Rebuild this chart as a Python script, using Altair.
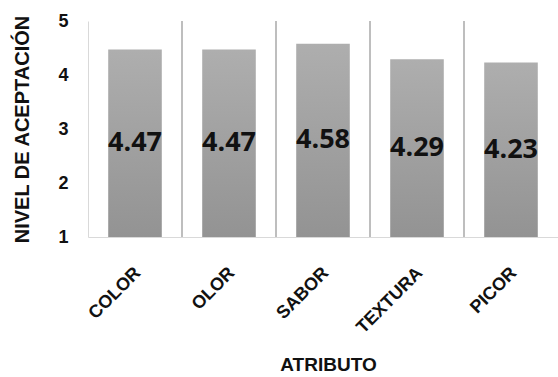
import altair as alt
import pandas as pd

CATS = ["COLOR", "OLOR", "SABOR", "TEXTURA", "PICOR"]
VALUES = [4.47, 4.47, 4.58, 4.29, 4.23]
LABELS = ["4.47", "4.47", "4.58", "4.29", "4.23"]
Y_TICKS = [1, 2, 3, 4, 5]
Y_MIN, Y_MAX = 1, 5

df = pd.DataFrame({"cat": CATS, "val": VALUES, "lab": LABELS})
sep = pd.DataFrame({"cat": CATS[1:]})

AX_FONT = "Liberation Sans"

x_axis = alt.Axis(
    title="ATRIBUTO",
    labelAngle=-45,
    labelAlign="right",
    labelBaseline="middle",
    labelFont=AX_FONT,
    labelFontSize=18,
    labelFontWeight="bold",
    labelColor="#111111",
    labelPadding=33,
    labelOffset=3,
    ticks=False,
    tickSize=0,
    grid=False,
    domainColor="#d9d9d9",
    domainWidth=1,
    titleFont=AX_FONT,
    titleFontSize=19,
    titleFontWeight="bold",
    titleColor="#111111",
    titleX=240,
    titleY=127,
    titleAlign="center",
    titleBaseline="middle",
    labelOverlap=False,
)

y_axis = alt.Axis(
    title="NIVEL DE ACEPTACIÓN",
    values=Y_TICKS,
    format="d",
    labelFont=AX_FONT,
    labelFontSize=18,
    labelFontWeight="bold",
    labelColor="#111111",
    labelPadding=20,
    ticks=False,
    tickSize=0,
    grid=False,
    domainColor="#d9d9d9",
    domainWidth=1,
    titleFont=AX_FONT,
    titleFontSize=20,
    titleFontWeight="bold",
    titleColor="#111111",
    titleX=-66,
    titleY=108,
    titleAngle=270,
    titleAlign="center",
    titleBaseline="middle",
)

x_enc = alt.X("cat:N", sort=CATS, scale=alt.Scale(paddingInner=0, paddingOuter=0), axis=x_axis)
y_scale = alt.Scale(domain=[Y_MIN, Y_MAX], nice=False, zero=False)

bars = alt.Chart(df).mark_bar(
    width=alt.RelativeBandSize(0.57),
    color=alt.Gradient(
        gradient="linear", x1=0, y1=0, x2=0, y2=1,
        stops=[alt.GradientStop(color="#aeaeae", offset=0),
               alt.GradientStop(color="#939393", offset=1)],
    ),
).encode(
    x=x_enc,
    y=alt.Y("val:Q", scale=y_scale, axis=y_axis),
    y2=alt.datum(Y_MIN),
)

labels = alt.Chart(df).transform_calculate(
    mid="(datum.val + %d) / 2" % Y_MIN
).mark_text(
    font="Open Sans", fontSize=27, fontWeight="bold", color="#111111",
    align="center", baseline="middle",
).encode(
    x=x_enc,
    y=alt.Y("mid:Q", scale=y_scale, axis=y_axis),
    text="lab:N",
)

seps = alt.Chart(sep).mark_rule(color="#a8a8a8", strokeWidth=1.5).encode(
    x=alt.X("cat:N", sort=CATS, scale=alt.Scale(paddingInner=0, paddingOuter=0), axis=x_axis, bandPosition=0),
    y=alt.datum(Y_MAX),
    y2=alt.datum(Y_MIN),
)

chart = alt.layer(seps, bars, labels).properties(
    width=470,
    height=216,
    padding={"left": 88, "top": 21, "right": 0, "bottom": 140},
    autosize=alt.AutoSizeParams(type="none"),
    background="white",
).configure_view(stroke=None)

chart.save("out.html", embed_options={"renderer": "svg", "actions": False})
